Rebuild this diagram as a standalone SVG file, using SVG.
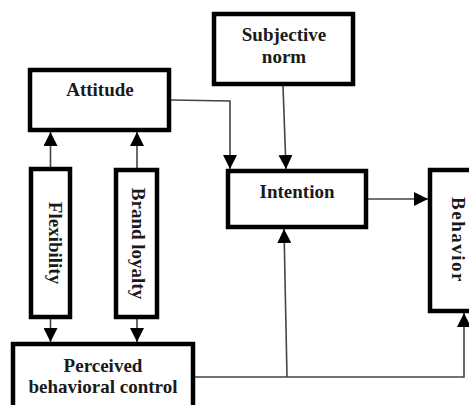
<svg xmlns="http://www.w3.org/2000/svg" width="469" height="405" viewBox="0 0 469 405">
<style>
.box{fill:#fff;stroke:#000;stroke-width:4.5}
.lbl{font-family:"Liberation Serif","Times New Roman",serif;font-weight:bold;font-size:19px;fill:#1a1a1a;text-anchor:middle}
.con{fill:none;stroke:#444;stroke-width:1.6}
</style>
<defs>
<marker id="ah" markerUnits="userSpaceOnUse" markerWidth="14" markerHeight="14" viewBox="0 0 12 12" refX="12" refY="6" orient="auto">
<path d="M0,0 L12,6 L0,12 Z" fill="#000"/>
</marker>
</defs>
<rect width="469" height="405" fill="#fff"/>
<g id="connectors">
<path class="con" d="M50.5,167 L50.5,132" marker-end="url(#ah)"/>
<path class="con" d="M137,168 L137,132" marker-end="url(#ah)"/>
<path class="con" d="M50.5,319 L50.5,342" marker-end="url(#ah)"/>
<path class="con" d="M137,319 L137,342" marker-end="url(#ah)"/>
<path class="con" d="M171,100 L230,101 L230,169" marker-end="url(#ah)"/>
<path class="con" d="M283,86 L286,169" marker-end="url(#ah)"/>
<path class="con" d="M368,199 L428,199" marker-end="url(#ah)"/>
<path class="con" d="M195,377 L464,377 L464,313" marker-end="url(#ah)"/>
<path class="con" d="M287,377 L284,229" marker-end="url(#ah)"/>
</g>
<g id="attitude">
<rect class="box" x="30" y="70" width="139" height="60"/>
<text class="lbl" x="100" y="96">Attitude</text>
</g>
<g id="subjective-norm">
<rect class="box" x="214" y="14" width="139" height="70"/>
<text class="lbl" x="284" y="41">Subjective</text>
<text class="lbl" x="284" y="63">norm</text>
</g>
<g id="intention">
<rect class="box" x="228" y="171" width="138" height="56"/>
<text class="lbl" x="297" y="198">Intention</text>
</g>
<g id="behavior">
<rect class="box" x="430" y="170" width="60" height="141"/>
<text class="lbl" transform="translate(452,240) rotate(90)" letter-spacing="1.5">Behavior</text>
</g>
<g id="flexibility">
<rect class="box" x="31" y="169" width="39" height="148"/>
<text class="lbl" transform="translate(49,243) rotate(90)">Flexibility</text>
</g>
<g id="brand-loyalty">
<rect class="box" x="116" y="170" width="41" height="147"/>
<text class="lbl" transform="translate(132,243.5) rotate(90)">Brand loyalty</text>
</g>
<g id="perceived-behavioral-control">
<rect class="box" x="13" y="344" width="180" height="70"/>
<text class="lbl" x="103" y="372">Perceived</text>
<text class="lbl" x="103" y="393">behavioral control</text>
</g>
</svg>
